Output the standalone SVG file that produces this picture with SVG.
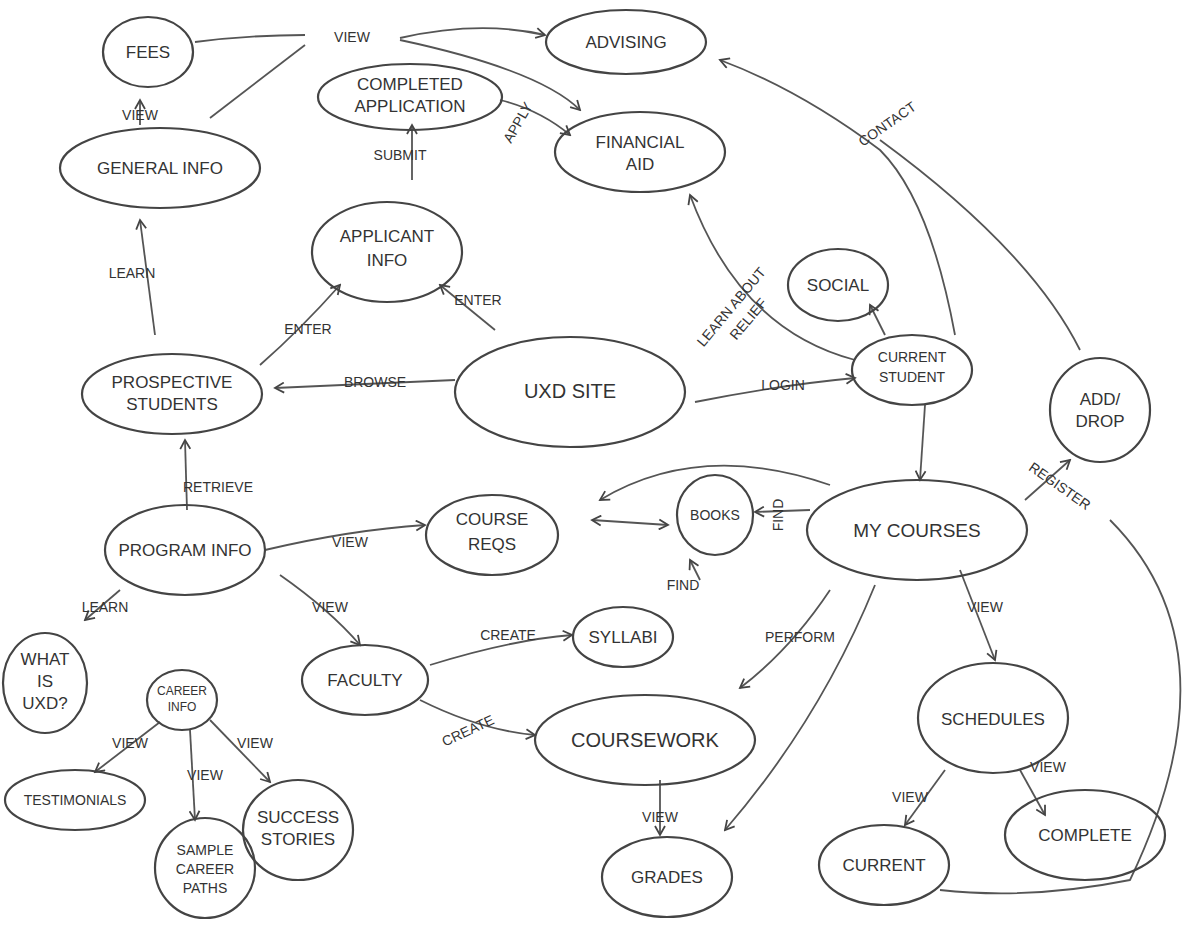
<svg xmlns="http://www.w3.org/2000/svg" width="1200" height="930" viewBox="0 0 1200 930">
<style>
.n ellipse{fill:none;stroke:#444;stroke-width:2.2}
text{font-family:"Liberation Sans",sans-serif;fill:#333;text-anchor:middle}
.t{font-size:17px}
.l{font-size:14px}
.c path{fill:none;stroke:#555;stroke-width:1.8}
.a{marker-end:url(#ar)}
.b{marker-start:url(#as)}
</style>
<defs><marker id="ar" markerWidth="12" markerHeight="12" refX="10" refY="6" orient="auto" markerUnits="userSpaceOnUse"><path d="M1,1 L10,6 L1,11" fill="none" stroke="#444" stroke-width="1.8"/></marker>
<marker id="as" markerWidth="12" markerHeight="12" refX="2" refY="6" orient="auto" markerUnits="userSpaceOnUse"><path d="M11,1 L2,6 L11,11" fill="none" stroke="#444" stroke-width="1.8"/></marker></defs>
<rect width="1200" height="930" fill="#fff"/>
<g class="c">
<path class="a" d="M400,38 Q480,20 545,35"/>
<path d="M195,42 Q250,35 305,35"/>
<path d="M305,45 L210,118"/>
<path class="a" d="M400,40 Q540,70 580,110"/>
<path class="a" d="M140,125 L140,100"/>
<path class="a" d="M155,335 L140,220"/>
<path class="a" d="M412,180 L412,125"/>
<path class="a" d="M500,100 Q540,110 570,135"/>
<path class="a" d="M260,365 Q300,330 340,285"/>
<path class="a" d="M495,330 L440,285"/>
<path class="a" d="M455,380 L275,388"/>
<path class="a" d="M695,402 Q780,385 855,378"/>
<path class="a" d="M855,360 Q740,330 690,195"/>
<path class="a" d="M885,335 L870,305"/>
<path class="a" d="M955,335 Q930,200 880,150 Q800,90 720,60"/>
<path d="M1080,350 Q1030,250 880,140"/>
<path class="a" d="M925,405 L920,480"/>
<path class="a" d="M830,485 Q700,440 600,500"/>
<path class="a" d="M187,510 L185,440"/>
<path class="a" d="M265,550 Q350,530 425,525"/>
<path class="a b" d="M592,520 L668,525"/>
<path class="a" d="M810,510 L755,512"/>
<path class="a" d="M700,580 L690,560"/>
<path class="a" d="M280,575 Q330,610 360,645"/>
<path class="a" d="M120,590 L85,620"/>
<path class="a" d="M430,665 Q510,640 572,635"/>
<path class="a" d="M420,700 Q480,730 535,735"/>
<path class="a" d="M830,590 Q790,650 740,688"/>
<path class="a" d="M875,585 Q820,720 725,830"/>
<path class="a" d="M960,570 L995,660"/>
<path class="a" d="M1025,500 L1070,460"/>
<path d="M1110,520 Q1240,650 1130,880 Q1030,900 940,890"/>
<path class="a" d="M660,780 L660,835"/>
<path class="a" d="M945,770 L905,825"/>
<path class="a" d="M1020,770 L1045,815"/>
<path class="a" d="M160,722 L95,772"/>
<path class="a" d="M190,730 L195,820"/>
<path class="a" d="M210,720 L270,782"/>
</g>
<g class="n">
<g id="fees"><ellipse cx="148" cy="52" rx="45" ry="35"/><text class="t" x="148" y="58">FEES</text></g>
<g id="advising"><ellipse cx="626" cy="42" rx="80" ry="32"/><text class="t" x="626" y="48">ADVISING</text></g>
<g id="completed"><ellipse cx="410" cy="97" rx="92" ry="33"/><text class="t" x="410" y="90">COMPLETED</text><text class="t" x="410" y="112">APPLICATION</text></g>
<g id="finaid"><ellipse cx="640" cy="152" rx="85" ry="40"/><text class="t" x="640" y="148">FINANCIAL</text><text class="t" x="640" y="170">AID</text></g>
<g id="general"><ellipse cx="160" cy="168" rx="100" ry="40"/><text class="t" x="160" y="174">GENERAL INFO</text></g>
<g id="applicant"><ellipse cx="387" cy="252" rx="75" ry="50"/><text class="t" x="387" y="242">APPLICANT</text><text class="t" x="387" y="266">INFO</text></g>
<g id="social"><ellipse cx="838" cy="285" rx="50" ry="36"/><text class="t" x="838" y="291">SOCIAL</text></g>
<g id="uxd"><ellipse cx="570" cy="392" rx="115" ry="55"/><text class="t" x="570" y="398" style="font-size:20px">UXD SITE</text></g>
<g id="current-student"><ellipse cx="912" cy="370" rx="60" ry="35"/><text class="l" x="912" y="362">CURRENT</text><text class="l" x="912" y="382">STUDENT</text></g>
<g id="prospective"><ellipse cx="172" cy="394" rx="90" ry="40"/><text class="t" x="172" y="388">PROSPECTIVE</text><text class="t" x="172" y="410">STUDENTS</text></g>
<g id="adddrop"><ellipse cx="1100" cy="410" rx="50" ry="52"/><text class="t" x="1100" y="405">ADD/</text><text class="t" x="1100" y="427">DROP</text></g>
<g id="coursereqs"><ellipse cx="492" cy="535" rx="66" ry="40"/><text class="t" x="492" y="525">COURSE</text><text class="t" x="492" y="550">REQS</text></g>
<g id="books"><ellipse cx="715" cy="515" rx="38" ry="40"/><text class="l" x="715" y="520">BOOKS</text></g>
<g id="mycourses"><ellipse cx="917" cy="530" rx="110" ry="50"/><text class="t" x="917" y="537" style="font-size:19px">MY COURSES</text></g>
<g id="program"><ellipse cx="185" cy="550" rx="80" ry="45"/><text class="t" x="185" y="556">PROGRAM INFO</text></g>
<g id="whatis"><ellipse cx="45" cy="683" rx="42" ry="50"/><text class="t" x="45" y="665">WHAT</text><text class="t" x="45" y="687">IS</text><text class="t" x="45" y="709">UXD?</text></g>
<g id="syllabi"><ellipse cx="623" cy="637" rx="50" ry="30"/><text class="t" x="623" y="643">SYLLABI</text></g>
<g id="faculty"><ellipse cx="365" cy="680" rx="63" ry="35"/><text class="t" x="365" y="686">FACULTY</text></g>
<g id="career"><ellipse cx="182" cy="700" rx="35" ry="30"/><text class="l" x="182" y="695" style="font-size:12px">CAREER</text><text class="l" x="182" y="711" style="font-size:12px">INFO</text></g>
<g id="coursework"><ellipse cx="645" cy="740" rx="110" ry="45"/><text class="t" x="645" y="747" style="font-size:20px">COURSEWORK</text></g>
<g id="schedules"><ellipse cx="993" cy="718" rx="75" ry="55"/><text class="t" x="993" y="725">SCHEDULES</text></g>
<g id="testimonials"><ellipse cx="75" cy="800" rx="70" ry="30"/><text class="l" x="75" y="805">TESTIMONIALS</text></g>
<g id="success"><ellipse cx="298" cy="830" rx="55" ry="50"/><text class="t" x="298" y="823">SUCCESS</text><text class="t" x="298" y="845">STORIES</text></g>
<g id="sample"><ellipse cx="205" cy="868" rx="50" ry="50"/><text class="l" x="205" y="855">SAMPLE</text><text class="l" x="205" y="874">CAREER</text><text class="l" x="205" y="893">PATHS</text></g>
<g id="grades"><ellipse cx="667" cy="877" rx="65" ry="40"/><text class="t" x="667" y="883">GRADES</text></g>
<g id="current"><ellipse cx="884" cy="865" rx="65" ry="40"/><text class="t" x="884" y="871">CURRENT</text></g>
<g id="complete"><ellipse cx="1085" cy="835" rx="80" ry="45"/><text class="t" x="1085" y="841">COMPLETE</text></g>
</g>
<g class="lbl">
<text class="l" x="352" y="42">VIEW</text>
<text class="l" x="140" y="120">VIEW</text>
<text class="l" x="132" y="278">LEARN</text>
<text class="l" x="400" y="160">SUBMIT</text>
<text class="l" x="522" y="125" transform="rotate(-60 522 125)">APPLY</text>
<text class="l" x="308" y="334">ENTER</text>
<text class="l" x="478" y="305">ENTER</text>
<text class="l" x="375" y="387">BROWSE</text>
<text class="l" x="783" y="390">LOGIN</text>
<text class="l" x="735" y="310" transform="rotate(-50 735 310)">LEARN ABOUT</text>
<text class="l" x="752" y="322" transform="rotate(-50 752 322)">RELIEF</text>
<text class="l" x="890" y="128" transform="rotate(-35 890 128)">CONTACT</text>
<text class="l" x="218" y="492">RETRIEVE</text>
<text class="l" x="350" y="547">VIEW</text>
<text class="l" x="783" y="515" transform="rotate(-90 783 515)">FIND</text>
<text class="l" x="683" y="590">FIND</text>
<text class="l" x="1057" y="490" transform="rotate(35 1057 490)">REGISTER</text>
<text class="l" x="105" y="612">LEARN</text>
<text class="l" x="330" y="612">VIEW</text>
<text class="l" x="508" y="640">CREATE</text>
<text class="l" x="470" y="735" transform="rotate(-25 470 735)">CREATE</text>
<text class="l" x="800" y="642">PERFORM</text>
<text class="l" x="985" y="612">VIEW</text>
<text class="l" x="130" y="748">VIEW</text>
<text class="l" x="255" y="748">VIEW</text>
<text class="l" x="205" y="780">VIEW</text>
<text class="l" x="660" y="822">VIEW</text>
<text class="l" x="910" y="802">VIEW</text>
<text class="l" x="1048" y="772">VIEW</text>
</g>
</svg>
